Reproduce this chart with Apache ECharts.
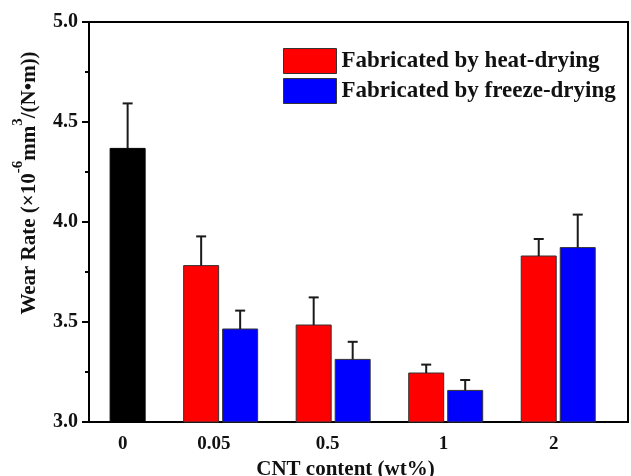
<!DOCTYPE html>
<html>
<head>
<meta charset="utf-8">
<script src="https://cdn.jsdelivr.net/npm/echarts@6/dist/echarts.min.js"></script>
<style>
  html, body { margin: 0; padding: 0; background: #fff; }
  #chart { width: 631px; height: 476px; }
</style>
</head>
<body>
<div id="chart"></div>
<script>
// CNT content groups and where their labels sit on the x axis
var categories = ["0", "0.05", "0.5", "1", "2"];
var groupPos = [1, 2, 3, 4, 5];
var labelPos = [1.13, 1.94, 2.95, 3.98, 4.96];

// wear rate, x10^-6 mm3/(N m)
var neat = [4.368, null, null, null, null];
var neatErr = [0.225, null, null, null, null];
var heat = [null, 3.782, 3.485, 3.245, 3.83];
var heatErr = [null, 0.146, 0.138, 0.042, 0.085];
var freeze = [null, 3.465, 3.313, 3.158, 3.872];
var freezeErr = [null, 0.092, 0.088, 0.052, 0.165];

var yTicks = [3.0, 3.5, 4.0, 4.5, 5.0];

var FONT = "Liberation Serif";
var BAR_W = 35;
var SLOT = 19.5;

function pairs(vals, errs, slot) {
  var out = [];
  for (var i = 0; i < vals.length; i++) {
    if (vals[i] == null) continue;
    out.push([groupPos[i], vals[i], errs[i], slot]);
  }
  return out;
}

function barRender(color, stroke) {
  return function (params, api) {
    var x = api.value(0);
    var top = api.coord([x, api.value(1)]);
    var base = api.coord([x, yTicks[0]]);
    var cx = top[0] + api.value(3) * SLOT;
    return {
      type: "rect",
      shape: { x: cx - BAR_W / 2, y: top[1], width: BAR_W, height: base[1] - top[1] },
      style: { fill: color, stroke: stroke, lineWidth: 1 }
    };
  };
}

function errRender(params, api) {
  var x = api.value(0);
  var v = api.value(1);
  var top = api.coord([x, v + api.value(2)]);
  var bot = api.coord([x, v]);
  var cx = top[0] + api.value(3) * SLOT;
  var st = { stroke: "#1a1a1a", lineWidth: 2 };
  return {
    type: "group",
    children: [
      { type: "line", shape: { x1: cx, y1: bot[1], x2: cx, y2: top[1] }, style: st },
      { type: "line", shape: { x1: cx - 5, y1: top[1], x2: cx + 5, y2: top[1] }, style: st }
    ]
  };
}

var chart = echarts.init(document.getElementById("chart"));

var option = {
  backgroundColor: "#fff",
  animation: false,
  grid: {
    left: 89, right: 3, top: 22, bottom: 54,
    outerBoundsMode: "none",
    containLabel: false,
    show: true, borderColor: "#000", borderWidth: 2
  },
  legend: {
    data: ["Fabricated by heat-drying", "Fabricated by freeze-drying"],
    orient: "vertical",
    left: 283, top: 48,
    padding: 0,
    itemWidth: 53, itemHeight: 25, itemGap: 4,
    icon: "rect",
    itemStyle: { borderColor: "#333", borderWidth: 1 },
    textStyle: { fontFamily: FONT, fontWeight: "bold", fontSize: 23, color: "#111" }
  },
  xAxis: {
    type: "value",
    min: 0.83, max: 5.62,
    splitLine: { show: false },
    axisLine: { lineStyle: { color: "#000", width: 2 } },
    axisTick: { show: false },
    axisLabel: {
      customValues: labelPos,
      formatter: function (v) {
        var i = labelPos.indexOf(v);
        return i >= 0 ? categories[i] : "";
      },
      margin: 13,
      fontFamily: FONT, fontWeight: "bold", fontSize: 19, color: "#111"
    },
    name: "CNT content (wt%)",
    nameLocation: "middle",
    nameGap: 36,
    nameTextStyle: {
      fontFamily: FONT, fontWeight: "bold", fontSize: 21, color: "#111",
      padding: [0, 26, 0, 0]
    }
  },
  yAxis: {
    type: "value",
    min: 3, max: 5, interval: 0.5,
    splitLine: { show: false },
    axisLine: { show: true, lineStyle: { color: "#000", width: 2 } },
    axisTick: { show: true, length: 7, lineStyle: { color: "#000", width: 2 } },
    minorTick: { show: true, splitNumber: 2, length: 4, lineStyle: { color: "#000", width: 2 } },
    axisLabel: {
      margin: 11,
      formatter: function (v) { return v.toFixed(1); },
      fontFamily: FONT, fontWeight: "bold", fontSize: 20, color: "#111"
    },
    name: "{a|Wear Rate (×10}{s|-6}{a|mm}{s|3}{a|/(N•m))}",
    nameLocation: "middle",
    nameRotate: 90,
    nameGap: 49,
    nameTextStyle: {
      padding: [0, 0, 0, 78],
      rich: {
        a: { fontFamily: FONT, fontWeight: "bold", fontSize: 21, color: "#111", lineHeight: 29, verticalAlign: "bottom" },
        s: { fontFamily: FONT, fontWeight: "bold", fontSize: 15, color: "#111", verticalAlign: "top" }
      }
    }
  },
  series: [
    {
      name: "Pure",
      type: "custom",
      renderItem: barRender("#000", "#000"),
      encode: { x: 0, y: 1 },
      itemStyle: { color: "#000" },
      data: pairs(neat, neatErr, 1),
      z: 2
    },
    {
      name: "Fabricated by heat-drying",
      type: "custom",
      renderItem: barRender("#ff0000", "#333"),
      encode: { x: 0, y: 1 },
      itemStyle: { color: "#ff0000" },
      data: pairs(heat, heatErr, -1),
      z: 2
    },
    {
      name: "Fabricated by freeze-drying",
      type: "custom",
      renderItem: barRender("#0000ff", "#333"),
      encode: { x: 0, y: 1 },
      itemStyle: { color: "#0000ff" },
      data: pairs(freeze, freezeErr, 1),
      z: 2
    },
    {
      name: "err",
      type: "custom",
      renderItem: errRender,
      encode: { x: 0, y: 1 },
      data: pairs(neat, neatErr, 1)
        .concat(pairs(heat, heatErr, -1))
        .concat(pairs(freeze, freezeErr, 1)),
      z: 3
    }
  ]
};

chart.setOption(option);
</script>
</body>
</html>
